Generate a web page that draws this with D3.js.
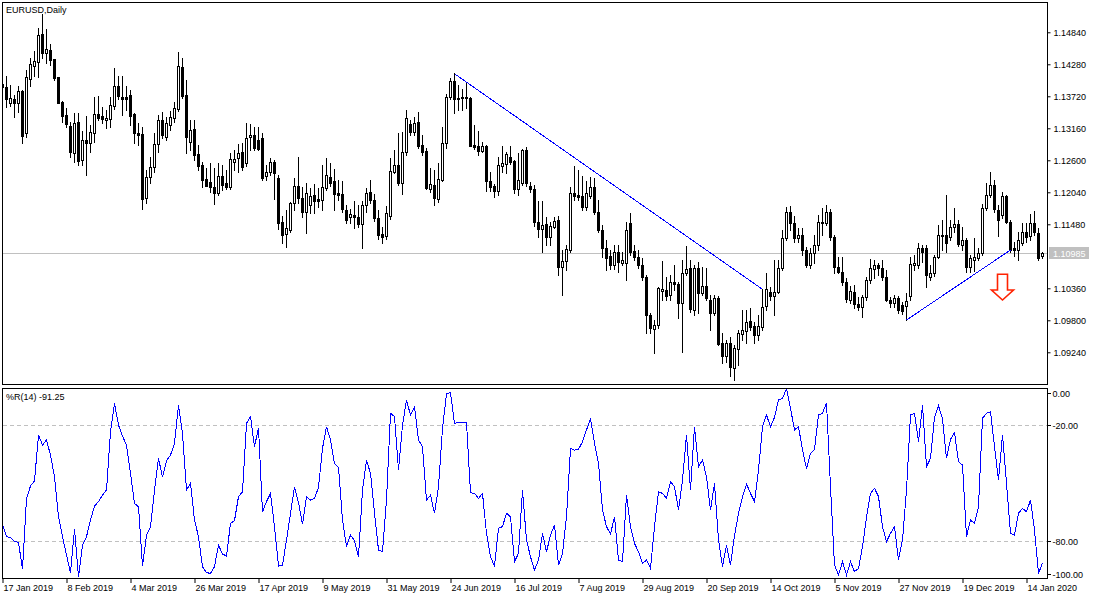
<!DOCTYPE html>
<html><head><meta charset="utf-8">
<script src="https://cdn.jsdelivr.net/npm/d3@7"></script>
<style>html,body{margin:0;padding:0;background:#fff;}svg{display:block;font-family:"Liberation Sans",Arial,sans-serif;}</style>
</head><body><svg id="c" width="1100" height="600"></svg>
<script>
const symbolTitle = "EURUSD,Daily";
const opens = [
1.13930,1.13888,1.13597,1.13667,1.13597,1.13818,1.13072,1.14017,1.14255,1.14325,
1.14805,1.14472,1.14530,1.14367,1.14052,1.13620,1.13392,1.13200,1.12722,1.13270,
1.12605,1.12955,1.12908,1.13083,1.13405,1.13375,1.13305,1.13322,1.13550,1.13900,
1.13713,1.13713,1.13742,1.13410,1.13083,1.13060,1.11935,1.12313,1.12477,1.12885,
1.13305,1.13013,1.13218,1.13345,1.13492,1.14238,1.13742,1.12925,1.13142,1.12710,
1.12518,1.12273,1.12225,1.12138,1.12033,1.12325,1.12208,1.12138,1.12575,1.12635,
1.12750,1.12547,1.13013,1.13043,1.12955,1.12995,1.12325,1.12400,1.12575,1.12285,
1.11525,1.11310,1.11380,1.11847,1.12150,1.11935,1.11700,1.11818,1.11993,1.11923,
1.11905,1.12110,1.12313,1.12238,1.12033,1.12010,1.11730,1.11602,1.11643,1.11602,
1.11485,1.11818,1.12040,1.11905,1.11585,1.11310,1.11275,1.11625,1.12400,1.12518,
1.12197,1.12750,1.13230,1.13100,1.13270,1.12868,1.12763,1.12092,1.12168,1.11917,
1.12255,1.12908,1.13702,1.13988,1.13690,1.13708,1.13708,1.13685,1.12868,1.12850,
1.12768,1.12855,1.12238,1.12150,1.12068,1.12505,1.12530,1.12663,1.12588,1.12103,
1.12208,1.12780,1.12155,1.12092,1.11525,1.11392,1.11480,1.11263,1.11438,1.11555,
1.10738,1.10838,1.11030,1.12033,1.11993,1.11975,1.11788,1.11975,1.12138,1.11700,
1.11380,1.11060,1.10925,1.10768,1.11000,1.10808,1.10797,1.11497,1.11013,1.10913,
1.10768,1.10563,1.09893,1.09642,1.09718,1.10318,1.10330,1.10243,1.10475,1.10430,
1.10097,1.10633,1.10720,1.09980,1.10720,1.10283,1.10400,1.10155,1.09922,1.10195,
1.09408,1.09175,1.09397,1.08970,1.09292,1.09560,1.09618,1.09788,1.09705,1.09543,
1.09688,1.10050,1.10300,1.10230,1.10300,1.10710,1.11235,1.11700,1.11497,1.11235,
1.11293,1.11030,1.10768,1.10972,1.11118,1.11508,1.11508,1.11690,1.11252,1.10727,
1.10650,1.10475,1.10155,1.10300,1.10085,1.10038,1.10202,1.10505,1.10698,1.10768,
1.10710,1.10552,1.10150,1.10097,1.10185,1.10068,1.10050,1.10225,1.10768,1.10768,
1.11060,1.11060,1.10563,1.10622,1.10913,1.11275,1.11293,1.11263,1.11438,1.11485,
1.11118,1.11205,1.10727,1.10855,1.10885,1.10972,1.11760,1.11993,1.12168,1.11730,
1.11643,1.11975,1.11525,1.11060,1.11030,1.11158,1.11350,1.11275,1.11497,1.11333,
1.10925];
const highs = [
1.14100,1.14075,1.13917,1.13742,1.13900,1.13830,1.14180,1.14385,1.14518,1.14910,
1.15160,1.14892,1.14630,1.14380,1.14060,1.13630,1.13510,1.13275,1.13422,1.13422,
1.13113,1.13380,1.13218,1.13713,1.13725,1.13538,1.13480,1.13713,1.14210,1.14075,
1.14075,1.13900,1.13830,1.13430,1.13247,1.13183,1.12430,1.12663,1.13072,1.13392,
1.13450,1.13363,1.13462,1.13625,1.14490,1.14385,1.14005,1.13305,1.13305,1.12868,
1.12575,1.12460,1.12553,1.12465,1.12553,1.12518,1.12430,1.12733,1.12780,1.12885,
1.12897,1.13247,1.13230,1.13177,1.13188,1.13080,1.12518,1.12635,1.12605,1.12343,
1.11625,1.11730,1.11875,1.12285,1.12663,1.12138,1.12208,1.12110,1.12180,1.12120,
1.12518,1.12635,1.12547,1.12448,1.12255,1.12238,1.11818,1.11742,1.11888,1.11818,
1.11888,1.12120,1.12255,1.12005,1.11730,1.11438,1.11800,1.12635,1.12780,1.13072,
1.13100,1.13480,1.13305,1.13363,1.13450,1.13043,1.12815,1.12460,1.12430,1.12547,
1.13188,1.13760,1.14035,1.14122,1.13917,1.13842,1.13947,1.13708,1.13218,1.13113,
1.12925,1.12868,1.12400,1.12185,1.12663,1.12850,1.12750,1.12850,1.12605,1.12733,
1.12792,1.12838,1.12225,1.12168,1.11888,1.11893,1.11613,1.11520,1.11613,1.11625,
1.11030,1.11118,1.12127,1.12505,1.12430,1.12325,1.12238,1.12302,1.12285,1.11905,
1.11468,1.11205,1.11030,1.11118,1.11118,1.10995,1.11525,1.11672,1.11118,1.11030,
1.10890,1.10593,1.09928,1.09805,1.10388,1.10838,1.10563,1.10593,1.10768,1.10470,
1.10855,1.11100,1.10855,1.10768,1.10820,1.10727,1.10710,1.10243,1.10243,1.10225,
1.09572,1.09455,1.09513,1.09368,1.09630,1.09980,1.09980,1.10010,1.09770,1.09893,
1.10342,1.10622,1.10388,1.10855,1.10855,1.11380,1.11788,1.11800,1.11625,1.11415,
1.11415,1.11083,1.11065,1.11293,1.11643,1.11760,1.11818,1.11742,1.11293,1.10913,
1.10902,1.10540,1.10400,1.10418,1.10213,1.10243,1.10563,1.10873,1.10855,1.10797,
1.10855,1.10680,1.10200,1.10243,1.10225,1.10125,1.10272,1.10913,1.10943,1.11158,
1.11118,1.11118,1.10768,1.10943,1.11468,1.11555,1.11993,1.11555,1.11760,1.11555,
1.11438,1.11240,1.10943,1.11235,1.11060,1.11835,1.12197,1.12400,1.12255,1.11818,
1.12050,1.11993,1.11555,1.11175,1.11350,1.11497,1.11497,1.11660,1.11718,1.11415,
1.11000];
const lows = [
1.13750,1.13527,1.13550,1.13363,1.13450,1.12897,1.13013,1.13900,1.14075,1.14063,
1.14385,1.14297,1.14267,1.14005,1.13600,1.13275,1.13188,1.12663,1.12575,1.12518,
1.12518,1.12343,1.12750,1.12925,1.13305,1.13253,1.13165,1.13183,1.13497,1.13680,
1.13392,1.13480,1.13218,1.12900,1.12868,1.11748,1.11847,1.12208,1.12395,1.12745,
1.12985,1.12955,1.13130,1.13270,1.13462,1.13690,1.12722,1.12780,1.12605,1.12430,
1.12138,1.12150,1.12050,1.11835,1.11993,1.12080,1.12092,1.12092,1.12430,1.12395,
1.12430,1.12500,1.12780,1.12780,1.12780,1.12255,1.12255,1.12343,1.11917,1.11392,
1.11158,1.11088,1.11345,1.11730,1.11858,1.11613,1.11333,1.11678,1.11672,1.11788,
1.11730,1.12080,1.12150,1.11730,1.11905,1.11695,1.11497,1.11497,1.11410,1.11438,
1.11060,1.11700,1.11853,1.11538,1.11217,1.11147,1.11217,1.11567,1.12378,1.12168,
1.12005,1.12692,1.13043,1.13043,1.12820,1.12692,1.12092,1.12050,1.11818,1.11865,
1.12238,1.12820,1.13667,1.13433,1.13480,1.13480,1.13520,1.12850,1.12798,1.12692,
1.12745,1.12068,1.12063,1.11963,1.11993,1.12395,1.12383,1.12535,1.12022,1.11993,
1.12168,1.12150,1.12050,1.11455,1.11263,1.11000,1.11118,1.11118,1.11415,1.10593,
1.10243,1.10680,1.10995,1.11905,1.11905,1.11730,1.11730,1.11940,1.11660,1.11345,
1.10913,1.10680,1.10692,1.10692,1.10650,1.10768,1.10505,1.10943,1.10855,1.10710,
1.10505,1.09572,1.09572,1.09233,1.09665,1.10155,1.10155,1.10155,1.10330,1.09835,
1.09250,1.10593,1.09945,1.09893,1.09922,1.10243,1.10155,1.09630,1.09893,1.09368,
1.09047,1.09075,1.08825,1.08755,1.09018,1.09455,1.09397,1.09630,1.09397,1.09455,
1.09630,1.09980,1.10155,1.09893,1.10278,1.10680,1.11205,1.11380,1.11170,1.11170,
1.10943,1.10738,1.10715,1.10797,1.11030,1.11293,1.11468,1.11205,1.10622,1.10622,
1.10418,1.10120,1.10103,1.10010,1.09980,1.09863,1.10155,1.10453,1.10535,1.10593,
1.10505,1.10143,1.10038,1.10033,1.09922,1.09910,1.09805,1.10155,1.10680,1.10715,
1.10820,1.10388,1.10505,1.10575,1.10890,1.11030,1.11000,1.11205,1.11345,1.11100,
1.11030,1.10650,1.10645,1.10668,1.10855,1.10943,1.11730,1.11958,1.11695,1.11275,
1.11590,1.11503,1.11000,1.10920,1.10855,1.11118,1.11175,1.11205,1.11293,1.10855,
1.10885];
const closes = [
1.13888,1.13667,1.13685,1.13597,1.13818,1.13030,1.14052,1.14280,1.14338,1.14792,
1.14472,1.14542,1.14355,1.14035,1.13608,1.13380,1.13235,1.12750,1.13247,1.12593,
1.12955,1.12908,1.13090,1.13410,1.13340,1.13317,1.13345,1.13567,1.13900,1.13720,
1.13678,1.13667,1.13380,1.13072,1.13048,1.11917,1.12313,1.12488,1.12885,1.13305,
1.13043,1.13247,1.13363,1.13510,1.14250,1.13730,1.13013,1.13130,1.12692,1.12505,
1.12255,1.12155,1.12138,1.12033,1.12325,1.12168,1.12138,1.12623,1.12617,1.12733,
1.12488,1.12985,1.13043,1.12810,1.12798,1.12285,1.12400,1.12575,1.12372,1.11508,
1.11293,1.11410,1.11858,1.12150,1.11935,1.11700,1.12033,1.11975,1.11893,1.11893,
1.12127,1.12343,1.12208,1.12005,1.11993,1.11748,1.11555,1.11655,1.11602,1.11485,
1.11818,1.12033,1.11905,1.11585,1.11293,1.11263,1.11683,1.12413,1.12518,1.12197,
1.12750,1.13335,1.13100,1.13258,1.12855,1.12750,1.12110,1.12185,1.11935,1.12267,
1.12908,1.13702,1.13988,1.13667,1.13667,1.13685,1.13690,1.12855,1.12838,1.12768,
1.12850,1.12243,1.12138,1.12068,1.12518,1.12547,1.12710,1.12575,1.12098,1.12250,
1.12780,1.12197,1.12098,1.11525,1.11392,1.11468,1.11263,1.11450,1.11543,1.10738,
1.10838,1.11043,1.12033,1.11975,1.11963,1.11788,1.12022,1.12127,1.11700,1.11380,
1.11060,1.10885,1.10768,1.11000,1.10825,1.10855,1.11380,1.11000,1.10913,1.10768,
1.10563,1.09893,1.09660,1.09718,1.10360,1.10342,1.10225,1.10475,1.10430,1.10097,
1.10633,1.10692,1.09992,1.10720,1.10272,1.10400,1.10185,1.09922,1.10185,1.09380,
1.09175,1.09408,1.08988,1.09310,1.09572,1.09630,1.09775,1.09688,1.09543,1.09705,
1.10038,1.10342,1.10230,1.10300,1.10710,1.11235,1.11700,1.11497,1.11235,1.11293,
1.11030,1.10768,1.10972,1.11118,1.11525,1.11525,1.11700,1.11252,1.10727,1.10650,
1.10475,1.10173,1.10313,1.10085,1.10038,1.10202,1.10505,1.10710,1.10768,1.10710,
1.10552,1.10155,1.10100,1.10185,1.09980,1.09968,1.10143,1.10780,1.10797,1.11060,
1.11000,1.10593,1.10622,1.10913,1.11293,1.11293,1.11158,1.11438,1.11485,1.11135,
1.11205,1.10738,1.10895,1.10902,1.10972,1.11760,1.11993,1.12168,1.11742,1.11555,
1.11975,1.11525,1.11030,1.11030,1.11205,1.11350,1.11263,1.11508,1.11350,1.10885,
1.10985];
const wpr = [
-71.1,-77.6,-78.0,-80.2,-80.5,-94.5,-57.8,-51.4,-48.7,-25.0,
-30.2,-27.6,-35.4,-46.6,-67.3,-77.6,-87.1,-96.2,-73.8,-98.3,
-81.9,-77.6,-69.0,-61.8,-59.5,-56.1,-53.5,-23.3,-8.7,-19.9,
-25.6,-30.2,-44.9,-60.4,-62.1,-92.8,-76.8,-72.4,-53.5,-37.1,
-46.9,-38.3,-35.4,-29.3,-9.5,-24.2,-53.5,-50.0,-69.0,-77.6,
-93.1,-96.2,-96.6,-93.1,-81.9,-86.6,-87.6,-70.7,-69.3,-56.9,
-54.4,-19.0,-15.5,-31.1,-21.2,-64.7,-59.5,-55.2,-72.4,-92.8,
-92.3,-79.3,-65.5,-51.8,-60.0,-71.1,-56.9,-58.7,-57.8,-52.1,
-31.9,-20.7,-27.6,-39.7,-41.8,-69.0,-82.8,-76.8,-79.7,-88.0,
-53.5,-38.0,-44.9,-65.5,-84.5,-85.4,-58.7,-13.8,-15.5,-43.1,
-19.9,-6.9,-14.7,-10.4,-27.6,-31.1,-58.7,-56.1,-65.5,-51.8,
-21.6,-3.8,-3.1,-19.0,-18.6,-18.6,-18.6,-54.9,-55.2,-57.8,
-55.2,-75.9,-88.0,-92.8,-73.3,-72.4,-65.5,-67.3,-90.6,-86.2,
-53.5,-79.3,-88.0,-94.9,-89.7,-75.9,-85.4,-76.8,-71.6,-92.3,
-86.2,-67.3,-31.9,-32.8,-32.4,-28.5,-22.4,-16.9,-29.3,-39.7,
-63.8,-72.4,-76.2,-67.3,-89.7,-90.6,-56.1,-72.4,-81.1,-85.4,
-91.4,-89.7,-94.0,-72.4,-54.4,-55.2,-57.8,-49.2,-51.8,-63.8,
-48.3,-25.0,-53.5,-20.7,-41.4,-38.0,-46.6,-63.8,-50.0,-79.3,
-93.1,-81.9,-92.3,-77.0,-65.5,-56.9,-50.4,-55.2,-59.5,-43.1,
-20.7,-14.7,-20.7,-15.9,-6.9,-6.1,-0.9,-11.2,-22.4,-20.7,
-32.8,-42.3,-34.5,-32.4,-14.7,-13.8,-8.3,-51.8,-92.3,-97.4,
-90.6,-97.4,-90.6,-95.7,-94.0,-82.8,-67.6,-55.2,-52.6,-56.9,
-72.4,-80.2,-75.9,-72.4,-89.7,-79.3,-53.5,-14.7,-13.8,-28.5,
-9.5,-41.4,-37.1,-15.9,-10.0,-16.4,-37.1,-27.3,-23.8,-38.8,
-40.6,-77.6,-69.0,-70.7,-62.1,-16.4,-13.8,-13.0,-31.1,-48.3,
-25.0,-50.0,-75.9,-76.8,-65.5,-63.0,-64.7,-58.7,-74.2,-96.6,
-91.25];
const priceTicks = [1.14840,1.14280,1.13720,1.13160,1.12600,1.12040,1.11480,1.10360,1.09800,1.09240];
const wprTicks = [0,-20,-80,-100];
const wprLevels = [-20,-80];
const dateTickIndex = [0,16,32,48,64,80,96,112,128,144,160,176,192,208,224,240,256];
const dateTickLabels = ["17 Jan 2019","8 Feb 2019","4 Mar 2019","26 Mar 2019","17 Apr 2019","9 May 2019","31 May 2019","24 Jun 2019","16 Jul 2019","7 Aug 2019","29 Aug 2019","20 Sep 2019","14 Oct 2019","5 Nov 2019","27 Nov 2019","19 Dec 2019","14 Jan 2020"];
const trendDown = [{i:113,p:1.14115},{i:190,p:1.10342}];
const trendUp = [{i:226,p:1.09805},{i:252,p:1.11030}];
const arrowSignal = {i:250, top:1.10605, neck:1.10330, tip:1.10155};

const svg = d3.select('#c');
const FONT = '"Liberation Sans",Arial,sans-serif';
const L = 2.5, R = 1047.5, mTop = 2.5, mBot = 385, sTop = 388.5, sBot = 579;
const n = opens.length;
const x = d3.scaleLinear().domain([0, n-1]).range([2.5, 2.5 + 4*(n-1)]);
const y = d3.scaleLinear().domain([1.086675, 1.1537]).range([385, 2]);
const ys = d3.scaleLinear().domain([-100, 0]).range([579.97, 386.63]);

const defs = svg.append('defs');
defs.append('clipPath').attr('id','cm').append('rect').attr('x',3).attr('y',3).attr('width',1044).attr('height',382);
defs.append('clipPath').attr('id','cs').append('rect').attr('x',3).attr('y',389).attr('width',1044).attr('height',190);

svg.append('rect').attr('width',1100).attr('height',600).attr('fill','#fff');

// current price line
const last = closes[n-1];
const yc = Math.round(y(last)) + 0.5;
svg.append('line').attr('x1',3).attr('x2',1047).attr('y1',yc).attr('y2',yc).attr('stroke','#c0c0c0');

// candles
const gm = svg.append('g').attr('clip-path','url(#cm)');
const idx = d3.range(n);
gm.selectAll('line.w').data(idx).join('line')
  .attr('x1',i=>x(i)).attr('x2',i=>x(i))
  .attr('y1',i=>Math.round(y(highs[i])))
  .attr('y2',i=>Math.round(y(lows[i]))+1)
  .attr('stroke','#000');
gm.selectAll('rect.b').data(idx).join('rect')
  .attr('x',i=>x(i)-1).attr('width',2)
  .attr('y',i=>Math.round(y(Math.max(opens[i],closes[i])))+0.5)
  .attr('height',i=>Math.max(0, Math.round(y(Math.min(opens[i],closes[i]))) - Math.round(y(Math.max(opens[i],closes[i])))))
  .attr('fill',i=>closes[i]>=opens[i]?'#fff':'#000')
  .attr('stroke','#000');

// trend lines
[trendDown, trendUp].forEach(t=>{
  gm.append('line').attr('x1',x(t[0].i)).attr('y1',y(t[0].p)).attr('x2',x(t[1].i)).attr('y2',y(t[1].p))
    .attr('stroke','#0000ff').attr('stroke-width',1).attr('shape-rendering','crispEdges');
});

// arrow
{
  const cx = x(arrowSignal.i), yt = y(arrowSignal.top), yn = y(arrowSignal.neck), yp = y(arrowSignal.tip);
  const p = d3.path();
  p.moveTo(cx-5,yt); p.lineTo(cx+5,yt); p.lineTo(cx+5,yn); p.lineTo(cx+11,yn); p.lineTo(cx,yp);
  p.lineTo(cx-11,yn); p.lineTo(cx-5,yn); p.closePath();
  gm.append('path').attr('d',p.toString()).attr('fill','#fff').attr('stroke','#ff2200').attr('stroke-width',1.6).attr('stroke-linejoin','miter');
}

// sub-panel levels
const gs = svg.append('g').attr('clip-path','url(#cs)');
wprLevels.forEach(v=>{
  const yy = Math.round(ys(v))+0.5;
  gs.append('line').attr('x1',3).attr('x2',1047).attr('y1',yy).attr('y2',yy)
    .attr('stroke','#c0c0c0').attr('stroke-dasharray','4,3');
});
gs.append('path').datum(idx)
  .attr('d', d3.line().x(i=>x(i)).y(i=>ys(wpr[i])))
  .attr('fill','none').attr('stroke','#0000ff').attr('stroke-width',1).attr('shape-rendering','crispEdges');

// frames
svg.append('rect').attr('x',L).attr('y',mTop).attr('width',R-L).attr('height',mBot-mTop-0.5).attr('fill','none').attr('stroke','#000');
svg.append('rect').attr('x',L).attr('y',sTop).attr('width',R-L).attr('height',sBot-sTop-0.5).attr('fill','none').attr('stroke','#000');

// price axis
const pa = svg.append('g').attr('transform','translate(1047.5,0)')
  .call(d3.axisRight(y).tickValues(priceTicks).tickSize(3).tickPadding(3).tickFormat(d=>d.toFixed(5)));
pa.select('.domain').remove();
pa.attr('font-family',FONT).attr('font-size',9);
pa.selectAll('text').attr('fill','#000').attr('dy','0.38em');
pa.selectAll('line').attr('stroke','#000');

// current price label
svg.append('rect').attr('x',1049).attr('y',yc-6.5).attr('width',40).attr('height',12).attr('fill','#c0c0c0');
svg.append('text').attr('x',1053).attr('y',yc+3.5).attr('font-family',FONT).attr('font-size',9).attr('fill','#fff').text(last.toFixed(5));

// wpr axis
wprTicks.forEach(v=>{
  const yy = Math.round(Math.min(Math.max(ys(v), 392.5), 573.5)) + 0.5;
  svg.append('line').attr('x1',1047.5).attr('x2',1051).attr('y1',yy).attr('y2',yy).attr('stroke','#000');
  svg.append('text').attr('x',1052.5).attr('y',yy+3.3).attr('font-family',FONT).attr('font-size',9).attr('fill','#000').text(v.toFixed(2));
});

// date axis
const da = svg.append('g').attr('transform','translate(0,579)')
  .call(d3.axisBottom(x).tickValues(dateTickIndex).tickSize(4).tickPadding(2).tickFormat((d,k)=>dateTickLabels[k]));
da.select('.domain').remove();
da.attr('font-family',FONT).attr('font-size',9);
da.selectAll('text').attr('text-anchor','start').attr('x',0.5).attr('fill','#000');
da.selectAll('line').attr('stroke','#000');

// titles
svg.append('text').attr('x',6).attr('y',13).attr('font-family',FONT).attr('font-size',9).attr('fill','#000').text(symbolTitle);
svg.append('text').attr('x',6).attr('y',400).attr('font-family',FONT).attr('font-size',9).attr('fill','#000').text('%R(14) ' + wpr[n-1].toFixed(2));
</script></body></html>
